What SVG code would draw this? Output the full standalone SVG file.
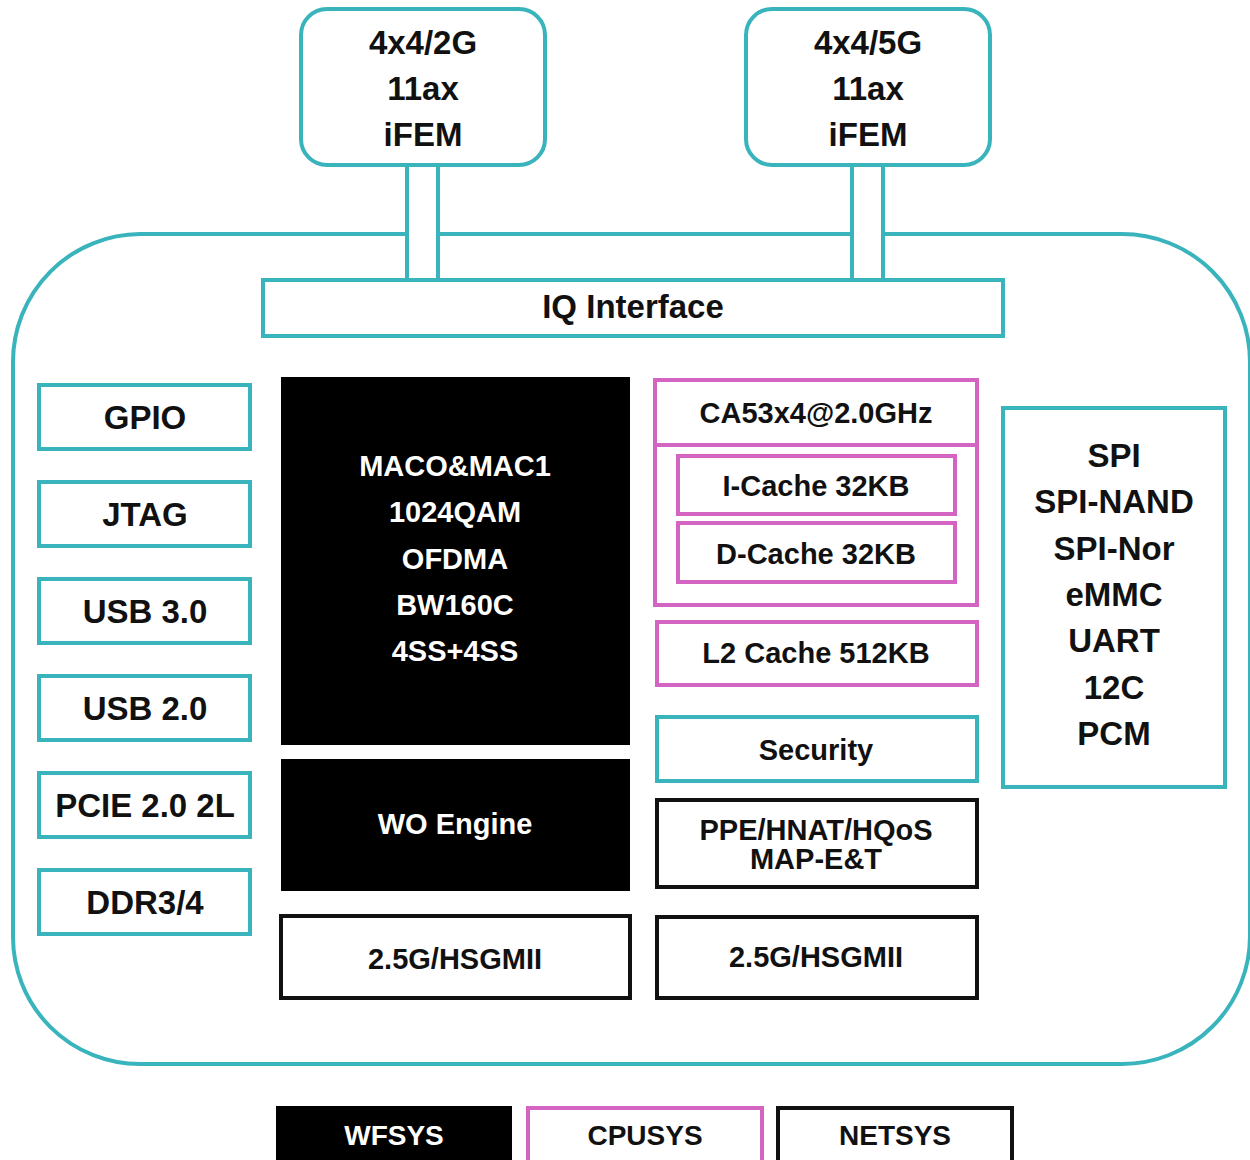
<svg xmlns="http://www.w3.org/2000/svg" width="1250" height="1160" viewBox="0 0 1250 1160">
<style>
text{font-family:"Liberation Sans",Arial,sans-serif;font-weight:700;text-anchor:middle;dominant-baseline:central;fill:#111}
.L{font-size:33px}
.M{font-size:29px}
.G{font-size:28px}
.wt{fill:#fff}
.t{fill:#fff;stroke:#3ab4bc;stroke-width:4}
.p{fill:#fff;stroke:#d464c2;stroke-width:4}
.b{fill:#000}
.n{fill:#fff;stroke:#111;stroke-width:4}
.l{stroke:#3ab4bc;stroke-width:4;fill:none}
</style>
<rect width="1250" height="1160" fill="#fff"/>
<g id="chip"><path class="l" d="M407,234 H140 A128,128 0 0 0 13,362 V937 A127,127 0 0 0 140,1064 H1122 A128,128 0 0 0 1250,936 V362 A128,128 0 0 0 1122,234 H883 M852,234 H438"/></g>
<g id="connectors">
<line class="l" x1="407" y1="165" x2="407" y2="280"/>
<line class="l" x1="438" y1="165" x2="438" y2="280"/>
<line class="l" x1="852" y1="165" x2="852" y2="280"/>
<line class="l" x1="883" y1="165" x2="883" y2="280"/>
</g>
<g id="fem2g"><rect class="t" x="301" y="9" width="244" height="156" rx="26"/><text class="L" x="423" y="42">4x4/2G</text><text class="L" x="423" y="88">11ax</text><text class="L" x="423" y="134">iFEM</text></g>
<g id="fem5g"><rect class="t" x="746" y="9" width="244" height="156" rx="26"/><text class="L" x="868" y="42">4x4/5G</text><text class="L" x="868" y="88">11ax</text><text class="L" x="868" y="134">iFEM</text></g>
<g id="iq"><rect class="t" x="263" y="280" width="740" height="56"/><text class="L" x="633" y="306">IQ Interface</text></g>
<g id="gpio"><rect class="t" x="39" y="385" width="211" height="64"/><text class="L" x="145" y="417">GPIO</text></g>
<g id="jtag"><rect class="t" x="39" y="482" width="211" height="64"/><text class="L" x="145" y="514">JTAG</text></g>
<g id="usb3"><rect class="t" x="39" y="579" width="211" height="64"/><text class="L" x="145" y="611">USB 3.0</text></g>
<g id="usb2"><rect class="t" x="39" y="676" width="211" height="64"/><text class="L" x="145" y="708">USB 2.0</text></g>
<g id="pcie"><rect class="t" x="39" y="773" width="211" height="64"/><text class="L" x="145" y="805">PCIE 2.0 2L</text></g>
<g id="ddr"><rect class="t" x="39" y="870" width="211" height="64"/><text class="L" x="145" y="902">DDR3/4</text></g>
<g id="mac"><rect class="b" x="281" y="377" width="349" height="368"/><text class="M wt" x="455" y="466">MACO&amp;MAC1</text><text class="M wt" x="455" y="512">1024QAM</text><text class="M wt" x="455" y="559">OFDMA</text><text class="M wt" x="455" y="605">BW160C</text><text class="M wt" x="455" y="651">4SS+4SS</text></g>
<g id="wo"><rect class="b" x="281" y="759" width="349" height="132"/><text class="M wt" x="455" y="824">WO Engine</text></g>
<g id="hsgmii1"><rect class="n" x="281" y="916" width="349" height="82"/><text class="M" x="455" y="959">2.5G/HSGMII</text></g>
<g id="cpu"><rect class="p" x="655" y="380" width="322" height="225"/><line x1="655" y1="445" x2="977" y2="445" stroke="#d464c2" stroke-width="4"/><text class="M" x="816" y="413">CA53x4@2.0GHz</text></g>
<g id="icache"><rect class="p" x="678" y="456" width="277" height="58"/><text class="M" x="816" y="486">I-Cache 32KB</text></g>
<g id="dcache"><rect class="p" x="678" y="523" width="277" height="59"/><text class="M" x="816" y="554">D-Cache 32KB</text></g>
<g id="l2"><rect class="p" x="657" y="622" width="320" height="63"/><text class="M" x="816" y="653">L2 Cache 512KB</text></g>
<g id="security"><rect class="t" x="657" y="717" width="320" height="64"/><text class="M" x="816" y="750">Security</text></g>
<g id="ppe"><rect class="n" x="657" y="800" width="320" height="87"/><text class="M" x="816" y="830">PPE/HNAT/HQoS</text><text class="M" x="816" y="859">MAP-E&amp;T</text></g>
<g id="hsgmii2"><rect class="n" x="657" y="917" width="320" height="81"/><text class="M" x="816" y="957">2.5G/HSGMII</text></g>
<g id="periph"><rect class="t" x="1003" y="408" width="222" height="379"/><text class="L" x="1114" y="455">SPI</text><text class="L" x="1114" y="501">SPI-NAND</text><text class="L" x="1114" y="548">SPI-Nor</text><text class="L" x="1114" y="594">eMMC</text><text class="L" x="1114" y="640">UART</text><text class="L" x="1114" y="687">12C</text><text class="L" x="1114" y="733">PCM</text></g>
<g id="legend-wfsys"><rect class="b" x="276" y="1106" width="236" height="56"/><text class="G wt" x="394" y="1135">WFSYS</text></g>
<g id="legend-cpusys"><rect class="p" x="528" y="1108" width="234" height="56"/><text class="G" x="645" y="1135">CPUSYS</text></g>
<g id="legend-netsys"><rect class="n" x="778" y="1108" width="234" height="56"/><text class="G" x="895" y="1135">NETSYS</text></g>
</svg>
